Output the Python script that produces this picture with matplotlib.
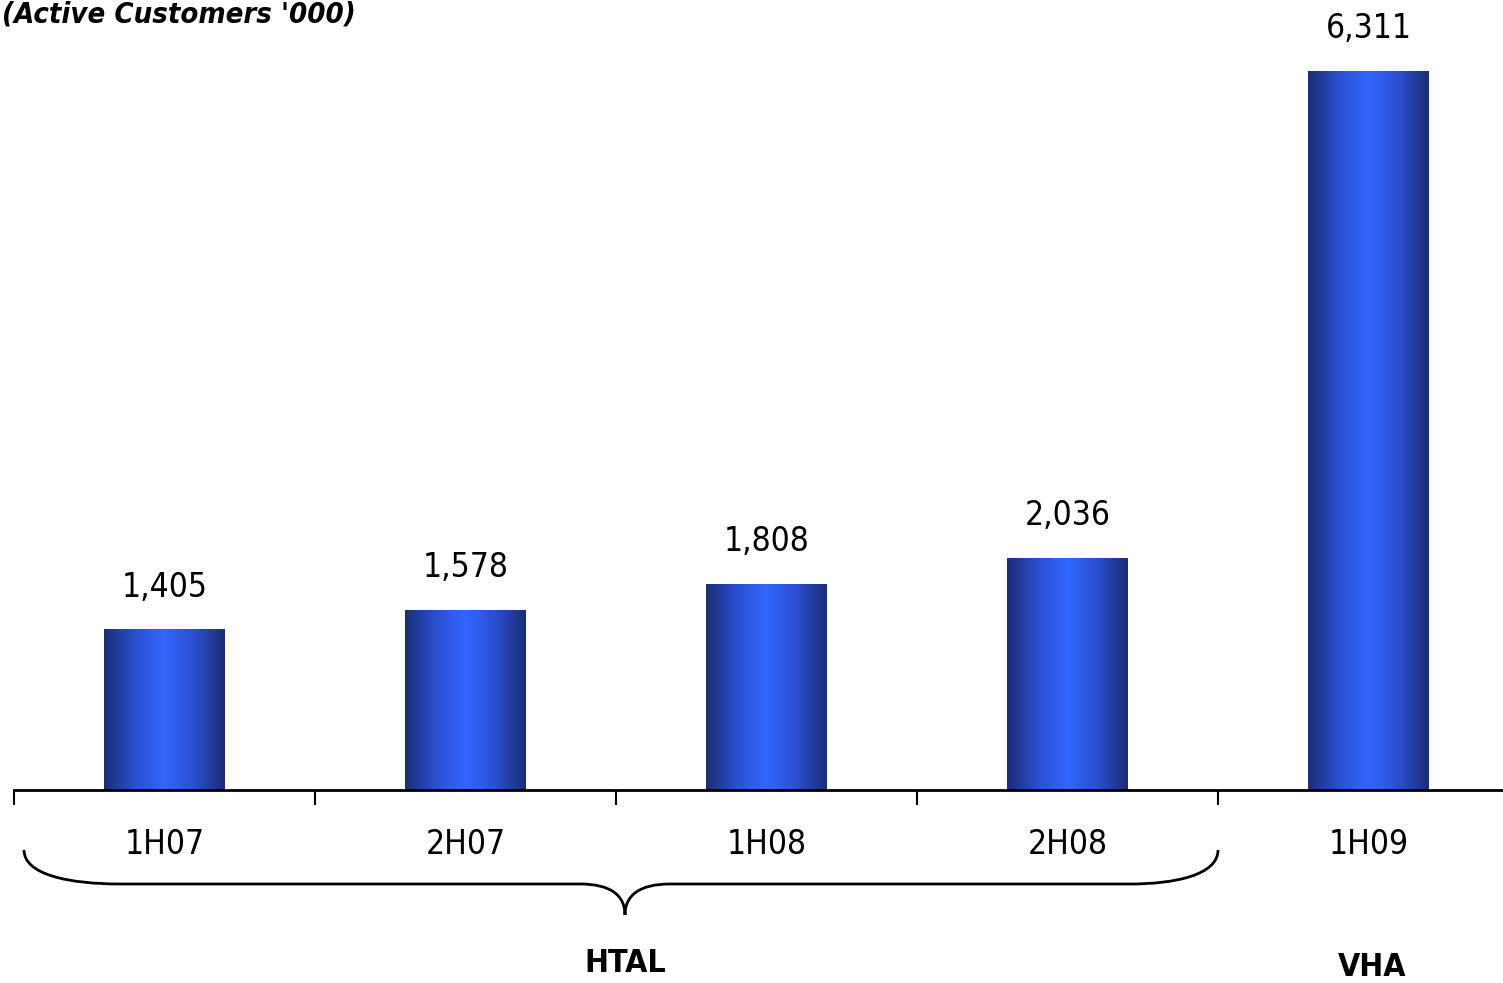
import numpy as np
import matplotlib
matplotlib.use("Agg")
import matplotlib.pyplot as plt
from matplotlib.colors import LinearSegmentedColormap
from matplotlib.path import Path
from matplotlib.patches import PathPatch

categories = ["1H07", "2H07", "1H08", "2H08", "1H09"]
values = [1405, 1578, 1808, 2036, 6311]
value_labels = ["1,405", "1,578", "1,808", "2,036", "6,311"]
group_labels = ["HTAL", "VHA"]
title = "(Active Customers '000)"

W, H = 1503, 983
fig = plt.figure(figsize=(W / 100, H / 100), dpi=100)
font = dict(family="DejaVu Sans", stretch="condensed")

# axes: x from px 14 to 1519, baseline at px 790, top at px 0
left = 14 / W
width = 1505 / W
bottom = (H - 790) / H
ax = fig.add_axes([left, bottom, width, 1 - bottom])
scale = 719 / 6311  # px per unit

cmap = LinearSegmentedColormap.from_list(
    "g", ["#1b2d74", "#2a4fcf", "#3366ff", "#2a4fcf", "#1b2d74"])
grad = np.linspace(0, 1, 256).reshape(1, -1)
bw = 0.4
ax.bar(range(len(values)), values, width=bw, color="none", zorder=2)
for i, v in enumerate(values):
    ax.imshow(grad, cmap=cmap, aspect="auto",
              extent=(i - bw / 2, i + bw / 2, 0, v), zorder=2,
              interpolation="bicubic")
    ax.annotate(value_labels[i], (i, v), xytext=(0, 19), textcoords="offset points",
                ha="center", va="bottom", fontsize=24, **font)
ax.set_xlim(-0.5, 4.5)
ax.set_ylim(0, 790 / scale)

for s in ["top", "right", "left"]:
    ax.spines[s].set_visible(False)
ax.spines["bottom"].set_linewidth(2)
ax.set_yticks([])
ax.set_xticks(range(len(categories)))
ax.set_xticklabels(categories, fontsize=24, **font)
ax.tick_params(axis="x", which="major", length=0, pad=27)
ax.set_xticks(np.arange(-0.5, 5, 1), minor=True)
ax.tick_params(axis="x", which="minor", length=11, width=1.5, direction="out")

# title
fig.text(2 / W, 1 - 15 / H, title, ha="left", va="center", fontsize=21,
         style="italic", weight="bold", **font)

# brace under HTAL group
def P(x, y):
    return (x / W, (H - y) / H)

verts = [P(24, 850),
         P(24, 875), P(70, 884), P(120, 884),
         P(580, 884),
         P(610, 884), P(625, 895), P(625, 915),
         P(625, 895), P(640, 884), P(670, 884),
         P(1130, 884),
         P(1175, 884), P(1218, 875), P(1218, 850)]
codes = [Path.MOVETO,
         Path.CURVE4, Path.CURVE4, Path.CURVE4,
         Path.LINETO,
         Path.CURVE4, Path.CURVE4, Path.CURVE4,
         Path.CURVE4, Path.CURVE4, Path.CURVE4,
         Path.LINETO,
         Path.CURVE4, Path.CURVE4, Path.CURVE4]
fig.patches.append(PathPatch(Path(verts, codes), transform=fig.transFigure,
                             fill=False, lw=2, edgecolor="black"))

fig.text(625 / W, 1 - 963 / H, group_labels[0], ha="center", va="center",
         fontsize=23, weight="bold", **font)
fig.text(1372 / W, 1 - 967 / H, group_labels[1], ha="center", va="center",
         fontsize=23, weight="bold", **font)

fig.savefig("out.png", dpi=100, facecolor="white")
